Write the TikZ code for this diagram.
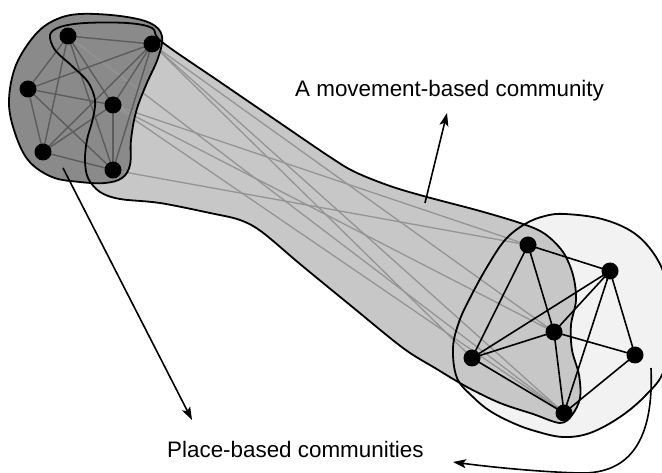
\documentclass[tikz,border=0pt]{standalone}
\usepackage{fontspec}
\setmainfont{Liberation Sans}
\usetikzlibrary{arrows.meta}
\begin{document}
\begin{tikzpicture}[x=1pt,y=-1pt,
  outline/.style={draw=black,line width=1.8pt},
  vertex/.style={circle,fill=black,inner sep=0pt,minimum size=17pt},
  intra/.style={draw=black!64,line width=1.4pt},
  inter/.style={draw=black!42,line width=1.3pt},
  local/.style={draw=black,line width=1.6pt},
  pointer/.style={draw=black,line width=1.6pt,-{Stealth[length=13pt,width=9pt,inset=3pt]}},
  caption/.style={font=\fontsize{22.4}{26}\selectfont,inner sep=0pt,anchor=base west}]
\useasboundingbox (0,0) rectangle (662,473);

% place-based community on the right (light disc)
\path[fill=black!5] plot[smooth cycle,tension=0.6] coordinates {
  (565,214) (602,219) (634,233) (656,257) (668,287) (671,322) (664,370)
  (646,395) (620,417) (590,433) (563,437) (535,431) (513,423) (490,411)
  (473,397) (457,378) (453,348) (459,322) (470,298) (487,267) (505,240)
  (525,224) (545,216)};
% movement-based community (tube)
\path[fill=black!22] plot[smooth cycle,tension=0.55] coordinates {
  (162,42) (220,82) (280,123) (330,157) (355,172) (390,186) (427,197)
  (480,211) (523,224) (545,234) (563,252) (573,275) (576,300) (571,325)
  (572,350) (579,375) (580,398) (572,415) (560,423) (533,414) (500,403)
  (467,387) (435,368) (403,348) (350,305) (300,264) (262,232) (240,220)
  (210,213) (160,203) (120,199) (100,192) (88,178) (85,160) (87,140)
  (93,118) (95,100) (88,82) (72,66) (55,50) (50,35) (60,27) (85,23)
  (127,23) (152,28)};
% place-based community on the left (dark blob)
\path[fill=black!46] plot[smooth cycle,tension=0.6] coordinates {
  (80,14) (120,16) (150,23) (162,36) (158,58) (146,85) (136,112) (131,140)
  (130,165) (122,178) (105,183) (80,182) (52,177) (28,160) (14,130) (9,100)
  (16,65) (35,35) (55,20)};

% vertex positions
\foreach \n/\px/\py in {L1/68/36,L2/152/44,L3/28/89,L4/113/105,L5/43/152,L6/113/170,
                        R1/528/245,R2/610/271,R3/554/332,R4/472/358,R5/635/355,R6/564/413}
  \coordinate (\n) at (\px,\py);

% links between the two places
\foreach \a/\b in {L2/R3,L2/R4,L2/R6,L4/R1,L4/R3,L4/R6,L6/R1,L1/R6}
  \draw[inter] (\a) -- (\b);
% links inside the left place
\foreach \a/\b in {L1/L2,L1/L3,L1/L4,L1/L5,L1/L6,L2/L3,L2/L4,L2/L5,L2/L6,
                   L3/L4,L3/L5,L3/L6,L4/L5,L4/L6,L5/L6}
  \draw[intra] (\a) -- (\b);

% outlines
\draw[outline] plot[smooth cycle,tension=0.6] coordinates {
  (565,214) (602,219) (634,233) (656,257) (668,287) (671,322) (664,370)
  (646,395) (620,417) (590,433) (563,437) (535,431) (513,423) (490,411)
  (473,397) (457,378) (453,348) (459,322) (470,298) (487,267) (505,240)
  (525,224) (545,216)};
\draw[outline] plot[smooth cycle,tension=0.55] coordinates {
  (162,42) (220,82) (280,123) (330,157) (355,172) (390,186) (427,197)
  (480,211) (523,224) (545,234) (563,252) (573,275) (576,300) (571,325)
  (572,350) (579,375) (580,398) (572,415) (560,423) (533,414) (500,403)
  (467,387) (435,368) (403,348) (350,305) (300,264) (262,232) (240,220)
  (210,213) (160,203) (120,199) (100,192) (88,178) (85,160) (87,140)
  (93,118) (95,100) (88,82) (72,66) (55,50) (50,35) (60,27) (85,23)
  (127,23) (152,28)};
\draw[outline] plot[smooth cycle,tension=0.6] coordinates {
  (80,14) (120,16) (150,23) (162,36) (158,58) (146,85) (136,112) (131,140)
  (130,165) (122,178) (105,183) (80,182) (52,177) (28,160) (14,130) (9,100)
  (16,65) (35,35) (55,20)};

% links inside the right place
\foreach \a/\b in {R1/R2,R1/R3,R1/R4,R2/R3,R2/R4,R2/R5,R2/R6,
                   R3/R4,R3/R5,R3/R6,R4/R6,R5/R6}
  \draw[local] (\a) -- (\b);

\foreach \n in {L1,L2,L3,L4,L5,L6,R1,R2,R3,R4,R5,R6}
  \node[vertex] (v\n) at (\n) {};

% labels and pointers
\node[caption] (mvtext) at (295,97) {A movement-based community};
\node[caption] (pltext) at (167,457) {Place-based communities};

\coordinate (mvfrom) at (425,203);
\coordinate (mvto) at (447,113);
\draw[pointer] (mvfrom) -- (mvto);

\coordinate (plfrom) at (63,168);
\coordinate (plto) at (192,420);
\draw[pointer] (plfrom) -- (plto);

\coordinate (prfrom) at (651,368);
\coordinate (prto) at (453,462);
\draw[pointer] (prfrom) .. controls (654,440) and (630,474) .. (580,473)
  .. controls (540,472) and (490,467) .. (prto);
\end{tikzpicture}
\end{document}
